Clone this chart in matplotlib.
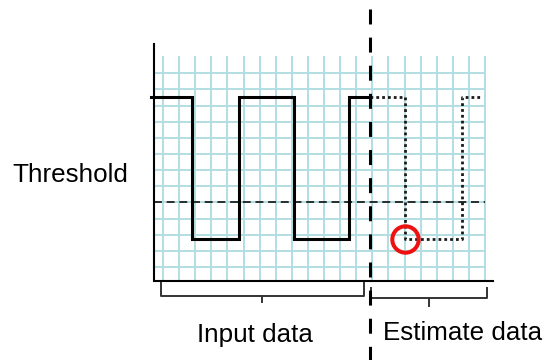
import matplotlib.pyplot as plt

plt.rcParams['font.family'] = ['Liberation Sans', 'DejaVu Sans']

# signal levels (grid units)
high = 10.5
low = 1.73
threshold = 4.0

# input data: transition times and level after each
input_t = [-0.75, 1.78, 4.74, 8.14, 11.57, 12.86]
input_level = [high, low, high, low, high, high]

# estimated continuation
est_t = [12.86, 15.03, 18.55, 19.7]
est_level = [high, low, high, high]

# point where estimate crosses threshold (marked)
mark_t = 15.03
mark_level = low

now_t = 12.86
n_cols = 20
n_rows = 12

fig = plt.figure(figsize=(5.45, 3.6), dpi=100)
ax = fig.add_axes([0, 0, 1, 1])
ax.set_xlim(-163 / 16.1, (545 - 163) / 16.1)
ax.set_ylim((267 - 360) / 16.15, 267 / 16.15)
ax.axis('off')

grid_c = '#b2dee1'
x0, y0 = -0.56, -0.84

# graph paper
for i in range(n_cols + 1):
    ax.plot([i, i], [y0, 13.0], color=grid_c, lw=1.4, zorder=1)
for j in range(n_rows + 1):
    ax.plot([x0, n_cols], [j, j], color=grid_c, lw=1.4, zorder=1)

# axes
ax.plot([x0, x0, 20.5], [13.8, y0, y0], color='black', lw=1.5, zorder=3,
        solid_joinstyle='miter')

# threshold
ax.plot([x0, n_cols], [threshold, threshold], color='black', lw=1.1,
        linestyle=(0, (5.2, 3.1)), zorder=2)

# input signal
ax.plot(input_t, input_level, drawstyle='steps-post', color='black', lw=2.2,
        zorder=4, solid_joinstyle='miter')

# estimate (dotted)
ax.plot(est_t, est_level, drawstyle='steps-post', color='#1a1a1a', lw=2.0,
        linestyle=(0, (1, 1.1)), zorder=4)

# present time line
ax.plot([now_t, now_t], [16.0, -5.8], color='black', lw=2.2,
        linestyle=(0, (4.9, 4.3)), zorder=5)

# marked point
ax.plot([mark_t], [mark_level], marker='o', markersize=19, markerfacecolor='none',
        markeredgecolor='#ee1111', markeredgewidth=2.9, zorder=6)

# braces
def brace(xa, xb, ytop, ybot, ytip):
    xm = (xa + xb) / 2
    ax.plot([xa, xa, xb, xb], [ytop, ybot, ybot, ytop], color='#333333', lw=1.4,
            zorder=3)
    ax.plot([xm, xm], [ybot, ytip], color='#333333', lw=1.4, zorder=3)

brace(-0.14, 12.48, -0.99, -1.8, -2.17)
brace(12.92, 20.1, -1.3, -1.92, -2.41)

ax.text(-9.33, 5.28, 'Threshold', fontsize=18.7, va='baseline', ha='left')
ax.text(5.71, -4.63, 'Input data', fontsize=18.7, va='baseline', ha='center')
ax.text(13.66, -4.52, 'Estimate data', fontsize=18.7, va='baseline', ha='left')

fig.savefig('out.png', dpi=100)
